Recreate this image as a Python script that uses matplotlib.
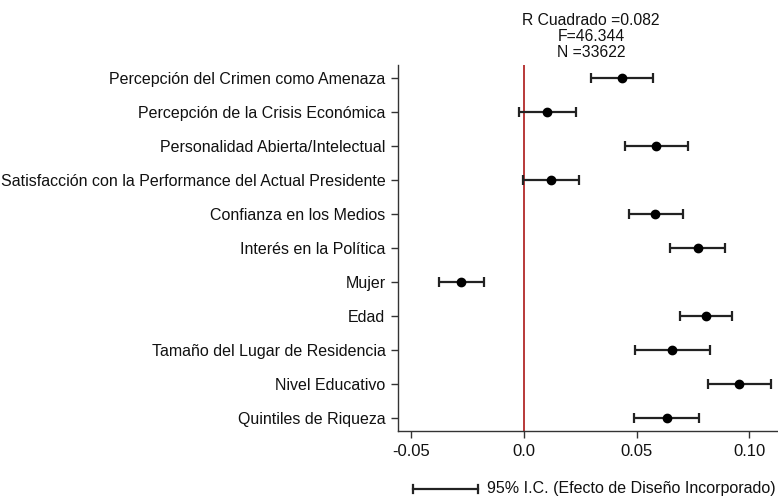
import matplotlib
matplotlib.use("Agg")
import matplotlib.pyplot as plt
from matplotlib.lines import Line2D

plt.rcParams['font.family'] = ['Liberation Sans', 'DejaVu Sans']

labels = [
    "Percepción del Crimen como Amenaza",
    "Percepción de la Crisis Económica",
    "Personalidad Abierta/Intelectual",
    "Satisfacción con la Performance del Actual Presidente",
    "Confianza en los Medios",
    "Interés en la Política",
    "Mujer",
    "Edad",
    "Tamaño del Lugar de Residencia",
    "Nivel Educativo",
    "Quintiles de Riqueza",
]
estimates = [0.0437, 0.0104, 0.0586, 0.0120, 0.0583, 0.0771, -0.0281, 0.0808, 0.0655, 0.0956, 0.0633]
ci_low = [0.0299, -0.0021, 0.0450, -0.0004, 0.0465, 0.0648, -0.0379, 0.0694, 0.0491, 0.0817, 0.0490]
ci_high = [0.0571, 0.0231, 0.0726, 0.0246, 0.0704, 0.0894, -0.0179, 0.0922, 0.0826, 0.1096, 0.0777]
xticks = [-0.05, 0.0, 0.05, 0.10]
xtick_labels = ["-0.05", "0.0", "0.05", "0.10"]
header = "R Cuadrado =0.082\nF=46.344\nN =33622"
legend_text = "95% I.C. (Efecto de Diseño Incorporado)"

W, H = 778, 500
fig = plt.figure(figsize=(W / 100, H / 100), dpi=100)
ax_l, ax_r, ax_t, ax_b = 398, 778, 65, 431
ax = fig.add_axes([ax_l / W, 1 - ax_b / H, (ax_r - ax_l) / W, (ax_b - ax_t) / H])

n = len(labels)
ys = list(range(n))
ax.axvline(0, color='#b22a2a', lw=1.3, zorder=1)
xerr = [[e - l for e, l in zip(estimates, ci_low)], [h - e for e, h in zip(estimates, ci_high)]]
ax.errorbar(estimates, ys, xerr=xerr, fmt='o', color='black', ecolor='#222222',
            elinewidth=1.6, capsize=3.8, capthick=1.6, markersize=6, zorder=3)

ax.set_ylim(n - 1 + 0.38, -0.38)
ax.set_xlim(-0.0559, 0.1127)
ax.set_yticks(ys)
ax.set_yticklabels(labels, fontsize=11.5, color='#111111')
ax.set_xticks(xticks)
ax.set_xticklabels(xtick_labels, fontsize=12, color='#111111')
ax.tick_params(axis='both', length=5, width=1, color='#333333', pad=4)
for s in ['top', 'right']:
    ax.spines[s].set_visible(False)
for s in ['left', 'bottom']:
    ax.spines[s].set_color('#333333')
    ax.spines[s].set_linewidth(1)

fig.text(591 / W, 1 - 36.5 / H, header, ha='center', va='center', fontsize=11.3,
         linespacing=1.08, color='#111111')

ly = 1 - 489 / H
fig.add_artist(Line2D([413 / W, 478 / W], [ly, ly], color='#222222', lw=1.6,
                      transform=fig.transFigure))
for xc in (413, 478):
    fig.add_artist(Line2D([xc / W, xc / W], [ly - 4 / H, ly + 4 / H], color='#222222', lw=1.6,
                          transform=fig.transFigure))
fig.text(487 / W, ly, legend_text, ha='left', va='center', fontsize=11.5, color='#111111')

fig.savefig("out.png", dpi=100)
